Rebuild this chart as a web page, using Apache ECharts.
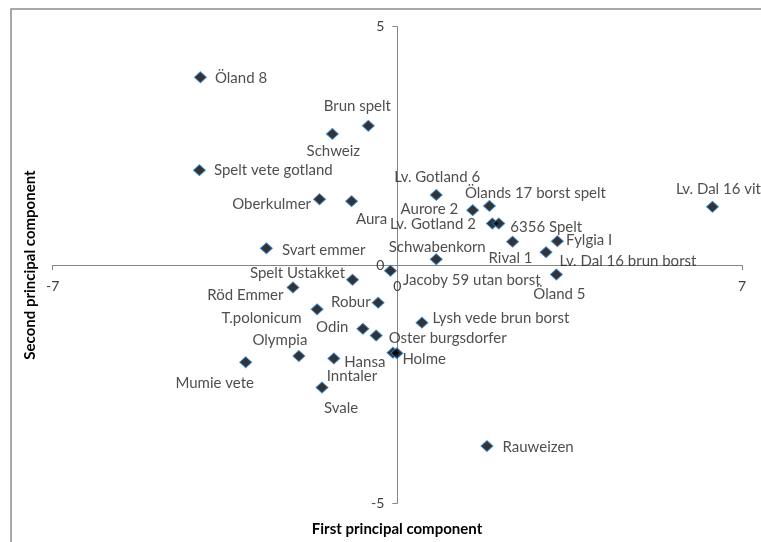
<!DOCTYPE html>
<html><head><meta charset="utf-8">
<script src="https://cdn.jsdelivr.net/npm/echarts@6/dist/echarts.min.js"></script>
<style>html,body{margin:0;padding:0;background:#fff}#c{width:761px;height:542px}</style>
</head><body><div id="c"></div>
<script>
const names = ['Öland 8','Brun spelt','Schweiz','Spelt vete gotland','Oberkulmer','Aura','Svart emmer',
  'Spelt Ustakket','Röd Emmer','T.polonicum','Robur','Odin','Oster burgsdorfer','Olympia','Mumie vete',
  'Hansa','Inntaler','Holme','Svale','Jacoby 59 utan borst','Schwabenkorn','Lv. Gotland 6','Aurore 2',
  'Ölands 17 borst spelt','Lv. Gotland 2','6356 Spelt','Rival 1','Lv. Dal 16 brun borst','Fylgia I',
  'Öland 5','Lv. Dal 16 vit','Lysh vede brun borst','Rauweizen'];
const pc1 = [-4.00,-0.59,-1.32,-4.02,-1.58,-0.93,-2.66,
  -0.91,-2.12,-1.63,-0.39,-0.70,-0.43,-2.00,-3.08,
  -1.29,-0.09,-0.01,-1.53,-0.14,0.79,0.79,1.53,
  1.87,1.93,2.06,2.34,3.02,3.25,
  3.23,6.40,0.50,1.82];
const pc2 = [3.94,2.92,2.75,1.99,1.38,1.34,0.35,
  -0.31,-0.47,-0.93,-0.79,-1.34,-1.48,-1.91,-2.04,
  -1.96,-1.84,-1.85,-2.57,-0.12,0.12,1.47,1.15,
  1.24,0.87,0.87,0.49,0.27,0.50,
  -0.20,1.22,-1.21,-3.80];
const xTicks = {min:-7, max:7, step:7};
const yTicks = {min:-5, max:5, step:5};

// label placement per point: [position, dx, dy] (style only)
const labelPlacement = [
  ['right',3,1],['top',-11,-1],['bottom',1,-1],['right',3,0],['left',3,5],['bottom',20,0],['right',4,2],
  ['left',4,-7],['left',2,8],['left',-4,9],['left',4,0],['left',-3,-2],['right',1,3],['top',-19,3],['bottom',-31,2],
  ['right',-1,4],['bottom',-41,5],['right',-6,6],['bottom',19,2],['right',1,9],['top',1,6],['top',1,1],['left',-3,-1],
  ['top',46,6],['left',-5,1],['right',0,4],['bottom',-2,-2],['right',2,9],['right',-3,-1],
  ['bottom',3,1],['top',6,1],['right',-1,-5],['right',4,1]
];

const FONT = 'Lato';
const GRID = {left:52.7, right:19, top:26.7, bottom:38.7};
const W = 761, H = 542;
const data = names.map((n,i)=>({
  name:n, value:[pc1[i],pc2[i]],
  label:{position:labelPlacement[i][0]}
}));

// shift axes so they cross at the origin
const plotW = W - GRID.left - GRID.right, plotH = H - GRID.top - GRID.bottom;
const xZeroFrac = (0 - xTicks.min)/(xTicks.max - xTicks.min);
const yZeroFrac = (0 - yTicks.min)/(yTicks.max - yTicks.min);
const xAxisOffset = -(plotH * yZeroFrac);
const yAxisOffset = -(plotW * xZeroFrac);

const chart = echarts.init(document.getElementById('c'), null, {renderer:'canvas'});
chart.setOption({
  animation:false,
  backgroundColor:'#fff',
  textStyle:{fontFamily:FONT},
  grid:{left:GRID.left, right:GRID.right, top:GRID.top, bottom:GRID.bottom, containLabel:false},
  xAxis:{type:'value', position:'bottom', offset:xAxisOffset, min:xTicks.min, max:xTicks.max, interval:xTicks.step,
    splitLine:{show:false},
    axisLine:{onZero:false, lineStyle:{color:'#868686', width:1}},
    axisTick:{show:true, length:5, lineStyle:{color:'#868686'}},
    axisLabel:{color:'#404040', fontSize:14, fontFamily:FONT, margin:14, hideOverlap:false, showMinLabel:true, showMaxLabel:true}},
  yAxis:{type:'value', position:'left', offset:yAxisOffset, min:yTicks.min, max:yTicks.max, interval:yTicks.step,
    splitLine:{show:false},
    axisLine:{onZero:false, lineStyle:{color:'#868686', width:1}},
    axisTick:{show:true, length:5, lineStyle:{color:'#868686'}},
    axisLabel:{color:'#404040', fontSize:14, fontFamily:FONT, margin:13, hideOverlap:false}},
  graphic:[
    {type:'rect', shape:{x:11, y:9, width:770, height:560}, style:{fill:null, stroke:'#8c8c8c', lineWidth:1.5}, silent:true},
    {type:'text', x:397, y:529, style:{text:'First principal component', font:'bold 15px '+FONT, fill:'#000', align:'center', verticalAlign:'middle'}},
    {type:'text', x:30, y:265, rotation:Math.PI/2, style:{text:'Second principal component', font:'bold 15px '+FONT, fill:'#000', align:'center', verticalAlign:'middle'}}
  ],
  series:[{
    type:'scatter', symbol:'diamond', symbolSize:[12,11],
    itemStyle:{color:'#000', borderColor:'#2f86d8', borderWidth:1},
    label:{show:true, formatter:'{b}', color:'#222', fontSize:15, fontFamily:FONT, distance:5},
    labelLayout:function(p){
      const lp = labelPlacement[p.dataIndex];
      return {dx:lp[1], dy:lp[2], hideOverlap:false};
    },
    data:data
  }]
});
</script></body></html>
